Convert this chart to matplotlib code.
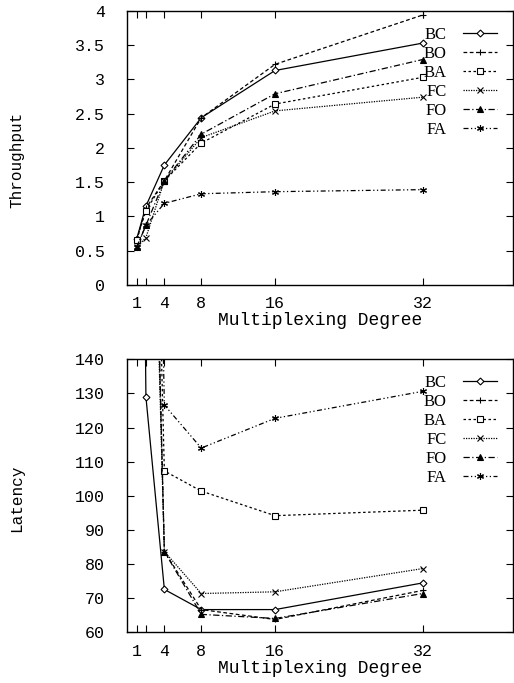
import matplotlib
matplotlib.use("Agg")
import matplotlib.pyplot as plt

x_vals = [1, 2, 4, 8, 16, 32]
x_ticks = [1, 2, 4, 8, 16, 32]
x_tick_labels = ["1", "", "4", "8", "16", "32"]
series = ["BC", "BO", "BA", "FC", "FO", "FA"]

thr_BC = [0.67, 1.15, 1.75, 2.44, 3.13, 3.53]
thr_BO = [0.65, 1.12, 1.52, 2.44, 3.22, 3.94]
thr_BA = [0.66, 1.08, 1.52, 2.07, 2.64, 3.03]
thr_FC = [0.55, 0.69, 1.52, 2.15, 2.54, 2.74]
thr_FO = [0.55, 0.87, 1.52, 2.20, 2.79, 3.29]
thr_FA = [0.55, 0.87, 1.19, 1.33, 1.36, 1.39]

lat_BC = [400.0, 129.0, 72.6, 66.7, 66.7, 74.5]
lat_BO = [600.0, 300.0, 83.7, 66.7, 63.8, 72.3]
lat_BA = [600.0, 320.0, 107.3, 101.4, 94.2, 95.8]
lat_FC = [600.0, 280.0, 83.7, 71.4, 71.9, 78.7]
lat_FO = [600.0, 300.0, 83.7, 65.3, 64.1, 71.4]
lat_FA = [600.0, 400.0, 126.6, 114.0, 122.7, 130.6]

thr = [thr_BC, thr_BO, thr_BA, thr_FC, thr_FO, thr_FA]
lat = [lat_BC, lat_BO, lat_BA, lat_FC, lat_FO, lat_FA]

styles = [
    dict(ls="-", marker="D", mfc="white", ms=3.5),
    dict(ls=(0, (3, 2)), marker="+", mfc="black", ms=5),
    dict(ls=(0, (2, 2)), marker="s", mfc="white", ms=5),
    dict(ls=(0, (1, 1)), marker="x", mfc="black", ms=4.5),
    dict(ls=(0, (5, 2, 1, 2)), marker="^", mfc="black", ms=4.5),
    dict(ls=(0, (4, 2, 1, 2, 1, 2)), marker=(6, 2, 0), mfc="black", ms=5),
]

mono = "Liberation Mono"
serif = "Liberation Serif"

fig = plt.figure(figsize=(5.14, 6.83), dpi=100)
ax1 = fig.add_axes([0.248, 0.583, 0.750, 0.401])
ax2 = fig.add_axes([0.248, 0.074, 0.750, 0.400])

def setup(ax, data, ylim, yticks, ylabel, ylab_y):
    for name, ys, st in zip(series, data, styles):
        ax.plot(x_vals, ys, color="black", lw=0.9, ls=st["ls"], marker=st["marker"],
                ms=st["ms"], mfc=st["mfc"], mec="black", mew=0.8, label=name)
    ax.set_xlim(0, 41.8)
    ax.set_ylim(*ylim)
    ax.set_xticks(x_ticks)
    ax.set_xticklabels(x_tick_labels, family=mono, fontsize=12)
    ax.set_yticks(yticks)
    ax.set_yticklabels([("%g" % v) for v in yticks], family=mono, fontsize=12)
    ax.tick_params(direction="in", top=True, right=True, length=5, width=0.8)
    ax.tick_params(axis="x", pad=8)
    ax.tick_params(axis="y", pad=16)
    for s in ax.spines.values():
        s.set_linewidth(1.0)
    ax.set_xlabel("Multiplexing Degree", family=mono, fontsize=13, labelpad=1)
    ax.set_ylabel(ylabel, family=mono, fontsize=11.5)
    ax.yaxis.set_label_coords(-0.268, ylab_y)
    ax.legend(loc="upper right", bbox_to_anchor=(0.975, 0.967), frameon=False,
              markerfirst=False, prop={"family": serif, "size": 12},
              handlelength=2.0, labelspacing=0.18, handletextpad=1.0,
              borderaxespad=0)

setup(ax1, thr, (0, 4), [0, 0.5, 1, 1.5, 2, 2.5, 3, 3.5, 4], "Throughput", 0.455)
setup(ax2, lat, (60, 140), [60, 70, 80, 90, 100, 110, 120, 130, 140], "Latency", 0.49)

fig.savefig("out.png", dpi=100)
